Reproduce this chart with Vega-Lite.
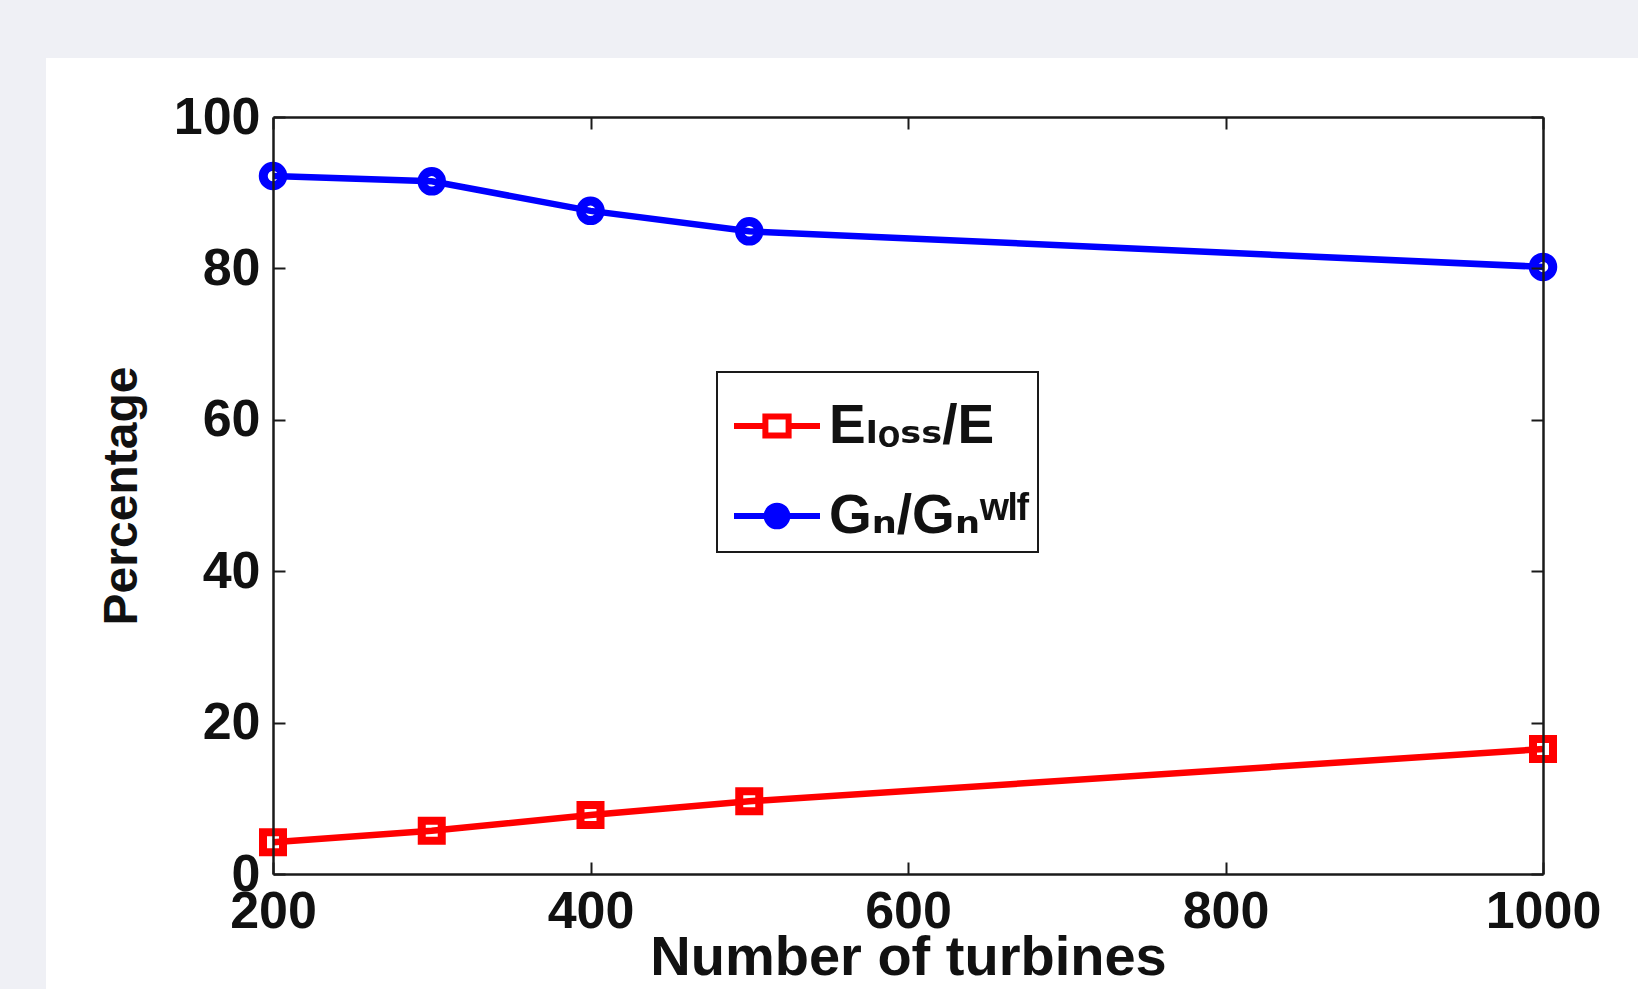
{
  "$schema": "https://vega.github.io/schema/vega-lite/v6.json",
  "width": 1270,
  "height": 757,
  "autosize": {"type": "none"},
  "padding": {"left": 273, "top": 117, "right": 95, "bottom": 115},
  "background": "#eff0f5",
  "config": {
    "view": {"fill": "white", "stroke": null},
    "axis": {
      "grid": false,
      "domainColor": "#1a1a1a",
      "domainWidth": 2.5,
      "tickColor": "#1a1a1a",
      "tickWidth": 2,
      "tickSize": -12,
      "labelFlush": false,
      "labelFont": "Liberation Sans",
      "labelFontWeight": "bold",
      "labelFontSize": 52,
      "labelColor": "#111111",
      "titleFont": "Liberation Sans",
      "titleFontWeight": "bold",
      "titleColor": "#111111"
    },
    "legend": {
      "orient": "none",
      "legendX": 444,
      "legendY": 255,
      "padding": 8,
      "strokeColor": "#1a1a1a",
      "fillColor": "white",
      "strokeWidth": 2,
      "cornerRadius": 0,
      "labelFont": "Liberation Sans, DejaVu Sans",
      "labelFontWeight": "bold",
      "labelFontSize": 55,
      "labelColor": "#111111",
      "labelOffset": 6,
      "symbolOffset": 6,
      "symbolSize": 7396,
      "symbolStrokeWidth": 6,
      "rowPadding": 16,
      "labelLimit": 400
    }
  },
  "data": {
    "values": [
      {"n": 200, "series": "E", "v": 4.2},
      {"n": 300, "series": "E", "v": 5.7},
      {"n": 400, "series": "E", "v": 7.8},
      {"n": 500, "series": "E", "v": 9.6},
      {"n": 1000, "series": "E", "v": 16.5},
      {"n": 200, "series": "G", "v": 92.2},
      {"n": 300, "series": "G", "v": 91.5},
      {"n": 400, "series": "G", "v": 87.6},
      {"n": 500, "series": "G", "v": 84.9},
      {"n": 1000, "series": "G", "v": 80.2}
    ]
  },
  "layer": [
    {
      "data": {"values": [{}]},
      "mark": {"type": "rect", "color": "white", "clip": false},
      "encoding": {
        "x": {"datum": 57, "type": "quantitative", "scale": {"domain": [200, 1000], "nice": false, "zero": false}, "axis": null},
        "x2": {"datum": 1300},
        "y": {"datum": 107.8, "type": "quantitative", "scale": {"domain": [0, 100], "nice": false, "zero": false}, "axis": null},
        "y2": {"datum": -30}
      }
    },
    {
      "mark": {"type": "line", "strokeWidth": 6.5},
      "encoding": {
        "x": {
          "field": "n", "type": "quantitative",
          "scale": {"domain": [200, 1000], "nice": false, "zero": false},
          "axis": {"orient": "bottom", "zindex": 2, "format": "d", "values": [200, 400, 600, 800, 1000], "labelPadding": 24, "title": "Number of turbines", "titleFontSize": 56, "titlePadding": -7}
        },
        "y": {
          "field": "v", "type": "quantitative",
          "scale": {"domain": [0, 100], "nice": false, "zero": false},
          "axis": {"orient": "left", "zindex": 2, "format": "d", "values": [0, 20, 40, 60, 80, 100], "labelPadding": 25, "title": "Percentage", "titleFontSize": 48, "titlePadding": 27}
        },
        "color": {
          "field": "series", "type": "nominal",
          "scale": {"domain": ["E", "G"], "range": ["#ff0000", "#0000ff"]},
          "legend": {
            "title": null,
            "labelExpr": "datum.label == 'E' ? 'Eₗₒₛₛ/E' : 'Gₙ/Gₙʷˡᶠ'",
            "encode": {
              "symbols": {
                "update": {
                  "shape": {"signal": "datum.value == 'E' ? 'M-1,0H-0.27M0.27,0H1M-0.27,-0.22H0.27V0.22H-0.27Z' : 'M-1,0H-0.24M0.24,0H1M-0.24,0A0.24,0.24 0 1,1 0.24,0A0.24,0.24 0 1,1 -0.24,0'"},
                  "fill": {"signal": "datum.value == 'G' ? '#0000ff' : 'transparent'"}
                }
              }
            }
          }
        }
      }
    },
    {
      "transform": [{"filter": "datum.series == 'E'"}],
      "mark": {"type": "point", "shape": "square", "filled": false, "strokeWidth": 8, "size": 400, "opacity": 1, "color": "#ff0000"},
      "encoding": {
        "x": {"field": "n", "type": "quantitative"},
        "y": {"field": "v", "type": "quantitative"}
      }
    },
    {
      "transform": [{"filter": "datum.series == 'G'"}],
      "mark": {"type": "point", "shape": "circle", "filled": false, "strokeWidth": 9, "size": 380, "opacity": 1, "color": "#0000ff"},
      "encoding": {
        "x": {
          "field": "n", "type": "quantitative",
          "axis": {"orient": "top", "zindex": 2, "values": [200, 400, 600, 800, 1000], "labels": false, "title": null}
        },
        "y": {
          "field": "v", "type": "quantitative",
          "axis": {"orient": "right", "zindex": 2, "values": [0, 20, 40, 60, 80, 100], "labels": false, "title": null}
        }
      }
    }
  ]
}
